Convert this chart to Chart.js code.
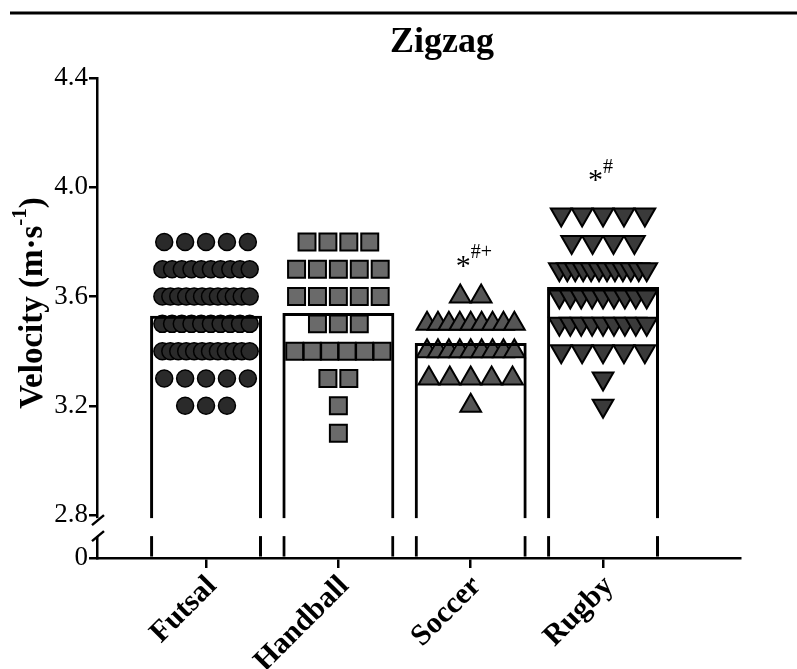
<!DOCTYPE html>
<html>
<head>
<meta charset="utf-8">
<script src="https://cdn.jsdelivr.net/npm/chart.js@4.4.0/dist/chart.umd.min.js"></script>
<style>
  html, body { margin: 0; padding: 0; background: #fff; }
</style>
</head>
<body>
<canvas id="myChart" width="797" height="669"></canvas>
<script>
'use strict';

var groups = ['Futsal', 'Handball', 'Soccer', 'Rugby'];
var means = [3.53, 3.54, 3.43, 3.635];
var marks = ['*#+', '*#'];   // soccer, rugby

var futsalValues = [3.8, 3.8, 3.8, 3.8, 3.8,
    3.7, 3.7, 3.7, 3.7, 3.7, 3.7, 3.7, 3.7, 3.7, 3.7,
    3.6, 3.6, 3.6, 3.6, 3.6, 3.6, 3.6, 3.6, 3.6, 3.6, 3.6, 3.6,
    3.5, 3.5, 3.5, 3.5, 3.5, 3.5, 3.5, 3.5, 3.5, 3.5,
    3.4, 3.4, 3.4, 3.4, 3.4, 3.4, 3.4, 3.4, 3.4, 3.4, 3.4, 3.4,
    3.3, 3.3, 3.3, 3.3, 3.3,
    3.2, 3.2, 3.2];
var handballValues = [3.8, 3.8, 3.8, 3.8,
    3.7, 3.7, 3.7, 3.7, 3.7,
    3.6, 3.6, 3.6, 3.6, 3.6,
    3.5, 3.5, 3.5,
    3.4, 3.4, 3.4, 3.4, 3.4, 3.4,
    3.3, 3.3,
    3.2,
    3.1];
var soccerValues = [3.6, 3.6,
    3.5, 3.5, 3.5, 3.5, 3.5, 3.5, 3.5, 3.5, 3.5,
    3.4, 3.4, 3.4, 3.4, 3.4, 3.4, 3.4, 3.4, 3.4,
    3.3, 3.3, 3.3, 3.3, 3.3,
    3.2];
var rugbyValues = [3.9, 3.9, 3.9, 3.9, 3.9,
    3.8, 3.8, 3.8, 3.8,
    3.7, 3.7, 3.7, 3.7, 3.7, 3.7, 3.7, 3.7, 3.7, 3.7, 3.7, 3.7,
    3.6, 3.6, 3.6, 3.6, 3.6, 3.6, 3.6, 3.6, 3.6,
    3.5, 3.5, 3.5, 3.5, 3.5, 3.5, 3.5, 3.5, 3.5,
    3.4, 3.4, 3.4, 3.4, 3.4,
    3.3,
    3.2];

var yTicks = [2.643, 2.8, 3.2, 3.6, 4.0, 4.4];

var serif = "'Liberation Serif', 'Times New Roman', serif";
var STEP = 0.158;
var MAX_SPAN = 0.66;

// lay points of equal value side by side, like a column scatter
function spread(values, center) {
    var counts = {};
    var keys = [];
    values.forEach(function (v) {
        if (!counts[v]) { counts[v] = 0; keys.push(v); }
        counts[v]++;
    });
    var pts = [];
    keys.forEach(function (v) {
        var n = counts[v];
        var span = Math.min((n - 1) * STEP, MAX_SPAN);
        for (var i = 0; i < n; i++) {
            var off = n > 1 ? -span / 2 + i * span / (n - 1) : 0;
            pts.push({ x: center + off, y: v });
        }
    });
    return pts;
}

var decor = {
    id: 'decor',
    afterDatasetsDraw: function (chart) {
        var ctx = chart.ctx;
        var area = chart.chartArea;
        var y = chart.scales.y;
        var top = y.getPixelForValue(2.8) + 3;
        var bot = top + 18;
        ctx.save();
        ctx.fillStyle = '#fff';
        ctx.fillRect(area.left - 3, top, area.right - area.left + 3, bot - top);
        ctx.strokeStyle = '#000';
        ctx.lineWidth = 2.5;
        ctx.beginPath();
        ctx.moveTo(area.left - 5, top + 7);
        ctx.lineTo(area.left + 7, top - 3);
        ctx.moveTo(area.left - 5, bot + 5);
        ctx.lineTo(area.left + 7, bot - 5);
        ctx.stroke();
        ctx.restore();
    },
    afterDraw: function (chart) {
        var ctx = chart.ctx;
        var x = chart.scales.x;
        var y = chart.scales.y;
        ctx.save();
        // page rule on top
        ctx.strokeStyle = '#000';
        ctx.lineWidth = 3;
        ctx.beginPath();
        ctx.moveTo(10, 13);
        ctx.lineTo(797, 13);
        ctx.stroke();

        ctx.fillStyle = '#000';
        ctx.textAlign = 'center';
        ctx.textBaseline = 'middle';
        ctx.font = 'bold 36px ' + serif;
        ctx.fillText('Zigzag', 442, 43);

        // y axis title with superscript
        ctx.translate(33, 303);
        ctx.rotate(-Math.PI / 2);
        var main = 'bold 33px ' + serif;
        var sup = 'bold 21px ' + serif;
        ctx.font = main;
        var w1 = ctx.measureText('Velocity (m\u00b7s').width;
        var w3 = ctx.measureText(')').width;
        ctx.font = sup;
        var w2 = ctx.measureText('-1').width;
        var sx = -(w1 + w2 + w3) / 2;
        ctx.textAlign = 'left';
        ctx.font = main;
        ctx.fillText('Velocity (m\u00b7s', sx, 0);
        ctx.font = sup;
        ctx.fillText('-1', sx + w1, -12);
        ctx.font = main;
        ctx.fillText(')', sx + w1 + w2, 0);
        ctx.setTransform(1, 0, 0, 1, 0, 0);

        // significance marks
        [[2, 3.726, marks[0]], [3, 4.04, marks[1]]].forEach(function (m) {
            var px = x.getPixelForValue(m[0]);
            var py = y.getPixelForValue(m[1]);
            ctx.textAlign = 'left';
            ctx.font = '30px ' + serif;
            ctx.fillText(m[2].charAt(0), px - 15, py + 5);
            var sw = ctx.measureText('*').width;
            ctx.font = '20px ' + serif;
            ctx.fillText(m[2].slice(1), px - 15 + sw, py - 9);
        });
        ctx.restore();
    }
};

var ctx = document.getElementById('myChart').getContext('2d');
var chart = new Chart(ctx, {
    type: 'bar',
    data: {
        datasets: [{
            type: 'bar',
            data: means.map(function (m, i) { return { x: i, y: m }; }),
            backgroundColor: 'rgba(255,255,255,0)',
            borderColor: '#000',
            borderWidth: 3,
            borderSkipped: 'bottom',
            barPercentage: 0.846,
            categoryPercentage: 1,
            base: yTicks[0],
            order: 0
        }, {
            type: 'scatter',
            data: spread(futsalValues, 0),
            pointStyle: 'circle',
            pointRadius: 8.5,
            pointBackgroundColor: '#2a2a2a',
            pointBorderColor: '#000',
            pointBorderWidth: 1.5,
            order: 1
        }, {
            type: 'scatter',
            data: spread(handballValues, 1),
            pointStyle: 'rect',
            pointRadius: 12,
            pointBackgroundColor: '#6a6a6a',
            pointBorderColor: '#000',
            pointBorderWidth: 2,
            order: 1
        }, {
            type: 'scatter',
            data: spread(soccerValues, 2),
            pointStyle: 'triangle',
            pointRadius: 12,
            pointBackgroundColor: '#555555',
            pointBorderColor: '#000',
            pointBorderWidth: 2,
            order: 1
        }, {
            type: 'scatter',
            data: spread(rugbyValues, 3),
            pointStyle: 'triangle',
            pointRotation: 180,
            pointRadius: 12,
            pointBackgroundColor: '#3a3a3a',
            pointBorderColor: '#000',
            pointBorderWidth: 2,
            order: 1
        }]
    },
    options: {
        responsive: false,
        animation: false,
        events: [],
        layout: { padding: { top: 78, right: 57, bottom: 0, left: 0 } },
        plugins: {
            legend: { display: false },
            tooltip: { enabled: false }
        },
        scales: {
            x: {
                type: 'linear',
                offset: false,
                min: -0.824,
                max: 4.035,
                border: { color: '#000', width: 2.5 },
                grid: { offset: false, drawOnChartArea: false, color: '#000', lineWidth: 2.5, tickLength: 10 },
                afterBuildTicks: function (scale) {
                    scale.ticks = groups.map(function (g, i) { return { value: i }; });
                },
                ticks: {
                    autoSkip: false,
                    minRotation: 45,
                    maxRotation: 45,
                    color: '#000',
                    padding: 1,
                    labelOffset: 6,
                    font: { family: serif, size: 30, weight: 'bold' },
                    callback: function (v) { return groups[v]; }
                },
                afterFit: function (scale) { scale.height = 111; }
            },
            y: {
                min: yTicks[0],
                max: 4.4,
                border: { color: '#000', width: 2.5 },
                grid: { drawOnChartArea: false, color: '#000', lineWidth: 2.5, tickLength: 8 },
                afterBuildTicks: function (scale) {
                    scale.ticks = yTicks.map(function (v) { return { value: v }; });
                },
                ticks: {
                    color: '#000',
                    padding: 1,
                    font: { family: serif, size: 27 },
                    callback: function (v) { return v < 2.7 ? '0' : v.toFixed(1); }
                },
                afterFit: function (scale) { scale.width = 97; }
            }
        }
    },
    plugins: [decor]
});
</script>
</body>
</html>
